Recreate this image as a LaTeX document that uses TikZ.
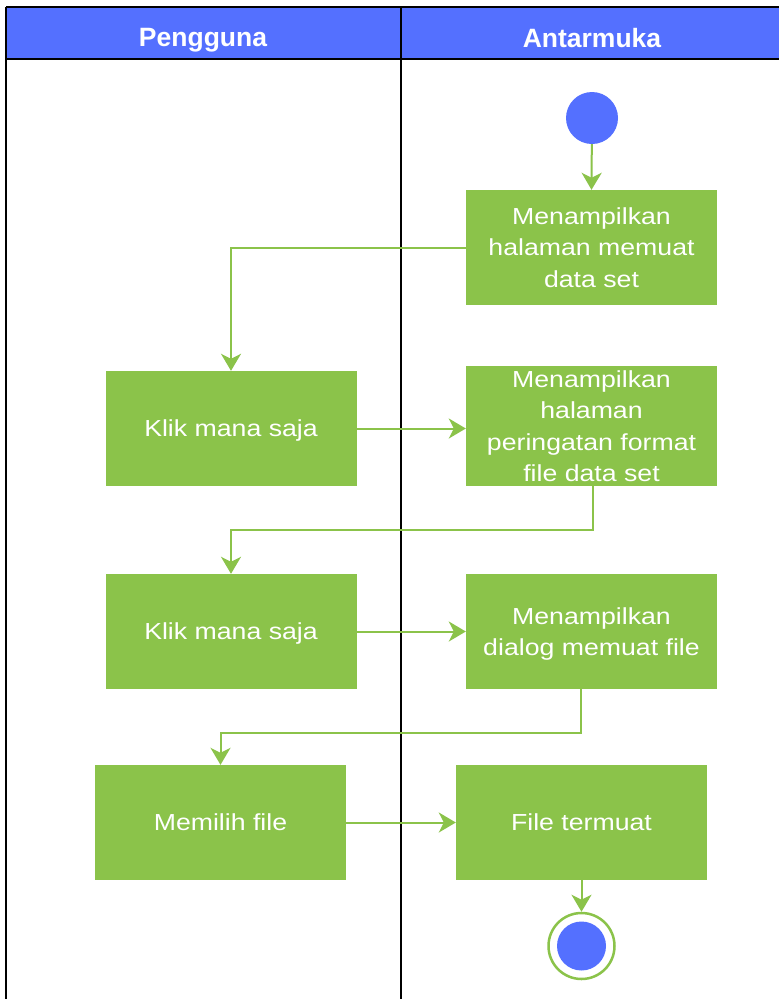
\documentclass[tikz,border=0pt]{standalone}
\usepackage{fontspec}
\setmainfont{Liberation Sans}
\newfontfamily\boxfont[FakeStretch=1.15]{Liberation Sans}
\usetikzlibrary{arrows.meta}
\definecolor{actgreen}{RGB}{139,195,74}
\definecolor{laneblue}{RGB}{84,112,255}
\tikzset{
  actbox/.style={fill=actgreen, draw=none, minimum width=251pt, minimum height=115pt,
    inner sep=0pt, text depth=0pt, text=white, align=center, font=\boxfont\fontsize{23.2}{31.5}\selectfont},
  flow/.style={draw=actgreen, line width=2pt, -{Stealth[length=17pt,width=20pt,inset=5pt]}},
  lane/.style={draw=black, line width=2pt},
  headtext/.style={text=white, text depth=0pt, font=\bfseries\fontsize{26.5}{30}\selectfont},
}
\begin{document}
\begin{tikzpicture}[x=1pt,y=-1pt]
\useasboundingbox (0,0) rectangle (779,999);
\fill[white] (0,0) rectangle (779,999);
% header
\fill[laneblue] (6,7) rectangle (782,59);
\draw[lane] (6,7) -- (782,7);
\draw[lane] (6,59) -- (782,59);
\draw[lane] (6,7) -- (6,1002);
\draw[lane] (401,7) -- (401,1002);
\node[headtext] (h1) at (203,37.5) {Pengguna};
\node[headtext] (h2) at (592,37.5) {Antarmuka};
% start
\node[circle, fill=laneblue, minimum size=52pt, inner sep=0pt] (start) at (592,118) {};
% boxes
\node[actbox] (b1) at (591.5,247.5) {Menampilkan\\halaman memuat\\data set};
\node[actbox] (b2) at (231,428.5) {Klik mana saja};
\node[actbox, minimum height=120pt] (b3) at (591.5,426) {Menampilkan\\halaman\\peringatan format\\file data set};
\node[actbox] (b4) at (231,631.5) {Klik mana saja};
\node[actbox] (b5) at (591.5,631.5) {Menampilkan\\dialog memuat file};
\node[actbox] (b6) at (220.5,822.5) {Memilih file};
\node[actbox] (b7) at (581.5,822.5) {File termuat};
% end
\node[circle, draw=actgreen, line width=2.5pt, minimum size=66pt, inner sep=0pt] (endo) at (581.5,946) {};
\node[circle, fill=laneblue, minimum size=49pt, inner sep=0pt] (endi) at (endo.center) {};
% connectors
\draw[flow] (start) -- (b1.north);
\draw[flow] (b1.west) -| (b2.north);
\draw[flow] (b2.east) -- (b2.east -| b3.west);
\draw[flow] ([xshift=1.5pt]b3.south) -- ++(0,44) -| (b4.north);
\draw[flow] (b4.east) -- (b4.east -| b5.west);
\draw[flow] ([xshift=-10.5pt]b5.south) -- ++(0,44) -| (b6.north);
\draw[flow] (b6.east) -- (b7.west);
\draw[flow] (b7.south) -- (endo.north);
\end{tikzpicture}
\end{document}
